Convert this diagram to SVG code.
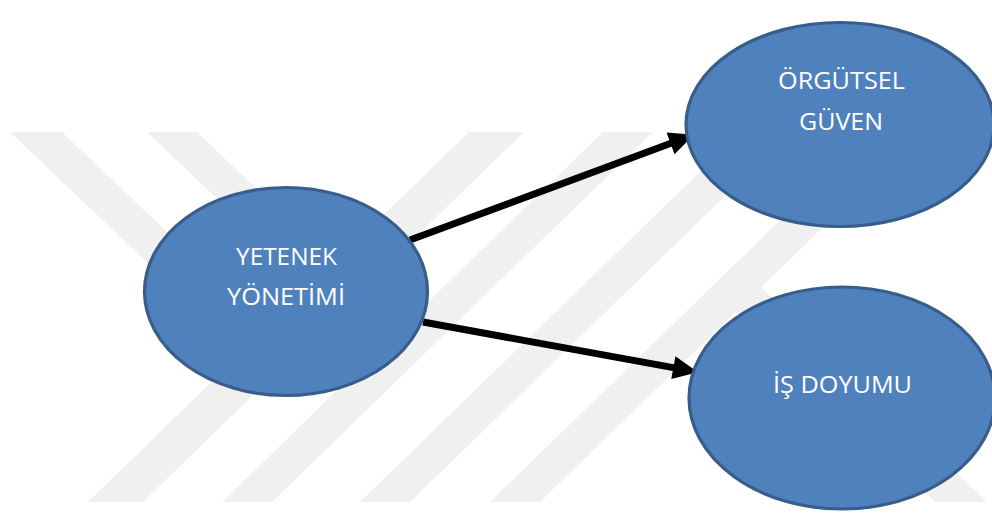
<svg xmlns="http://www.w3.org/2000/svg" width="992" height="514" viewBox="0 0 992 514">
  <style>
    .band { fill: #f0f0f0; stroke: none; }
    .node { fill: #4f81bd; stroke: #385d8a; stroke-width: 3.2; }
    .label { fill: #ffffff; font-family: "Open Sans", "Liberation Sans", sans-serif; font-size: 23px; text-anchor: middle; }
    .conn { stroke: #000000; stroke-width: 7; fill: none; marker-end: url(#arrow); }
  </style>
  <defs>
    <marker id="arrow" markerUnits="userSpaceOnUse" markerWidth="25" markerHeight="23" refX="4" refY="11.5" orient="auto" overflow="visible">
      <path d="M0,0 L25,11.5 L0,23 Z" fill="#000000"/>
    </marker>
  </defs>
  <rect x="0" y="0" width="992" height="514" fill="#ffffff"/>
  <g id="watermark">
    <polygon class="band" points="10,132 62,132 270,330 218,330"/>
    <polygon class="band" points="147,132 197,132 405,330 355,330"/>
    <polygon class="band" points="88,502 143,502 524,132 469,132"/>
    <polygon class="band" points="222,502 272,502 653,132 603,132"/>
    <polygon class="band" points="360,502 410,502 791,132 741,132"/>
    <polygon class="band" points="490,502 540,502 921,132 871,132"/>
    <polygon class="band" points="711,288 761,287 987,502 935,502"/>
  </g>
  <g id="connectors">
    <line class="conn" x1="410" y1="240" x2="674.3" y2="142"/>
    <line class="conn" x1="423" y1="322" x2="677.3" y2="368.4"/>
  </g>
  <g id="yetenek">
    <ellipse class="node" cx="286" cy="291.5" rx="141.5" ry="104"/>
    <text class="label" x="286.5" y="265" textLength="101" lengthAdjust="spacingAndGlyphs">YETENEK</text>
    <text class="label" x="286" y="305" textLength="118" lengthAdjust="spacingAndGlyphs">YÖNETİMİ</text>
  </g>
  <g id="orgutsel">
    <ellipse class="node" cx="840" cy="124.5" rx="154" ry="102"/>
    <text class="label" x="841.5" y="89" textLength="127" lengthAdjust="spacingAndGlyphs">ÖRGÜTSEL</text>
    <text class="label" x="841" y="130" textLength="84" lengthAdjust="spacingAndGlyphs">GÜVEN</text>
  </g>
  <g id="isdoyumu">
    <ellipse class="node" cx="842" cy="398" rx="153" ry="111"/>
    <text class="label" x="842.5" y="393" textLength="139" lengthAdjust="spacingAndGlyphs">İŞ DOYUMU</text>
  </g>
</svg>
